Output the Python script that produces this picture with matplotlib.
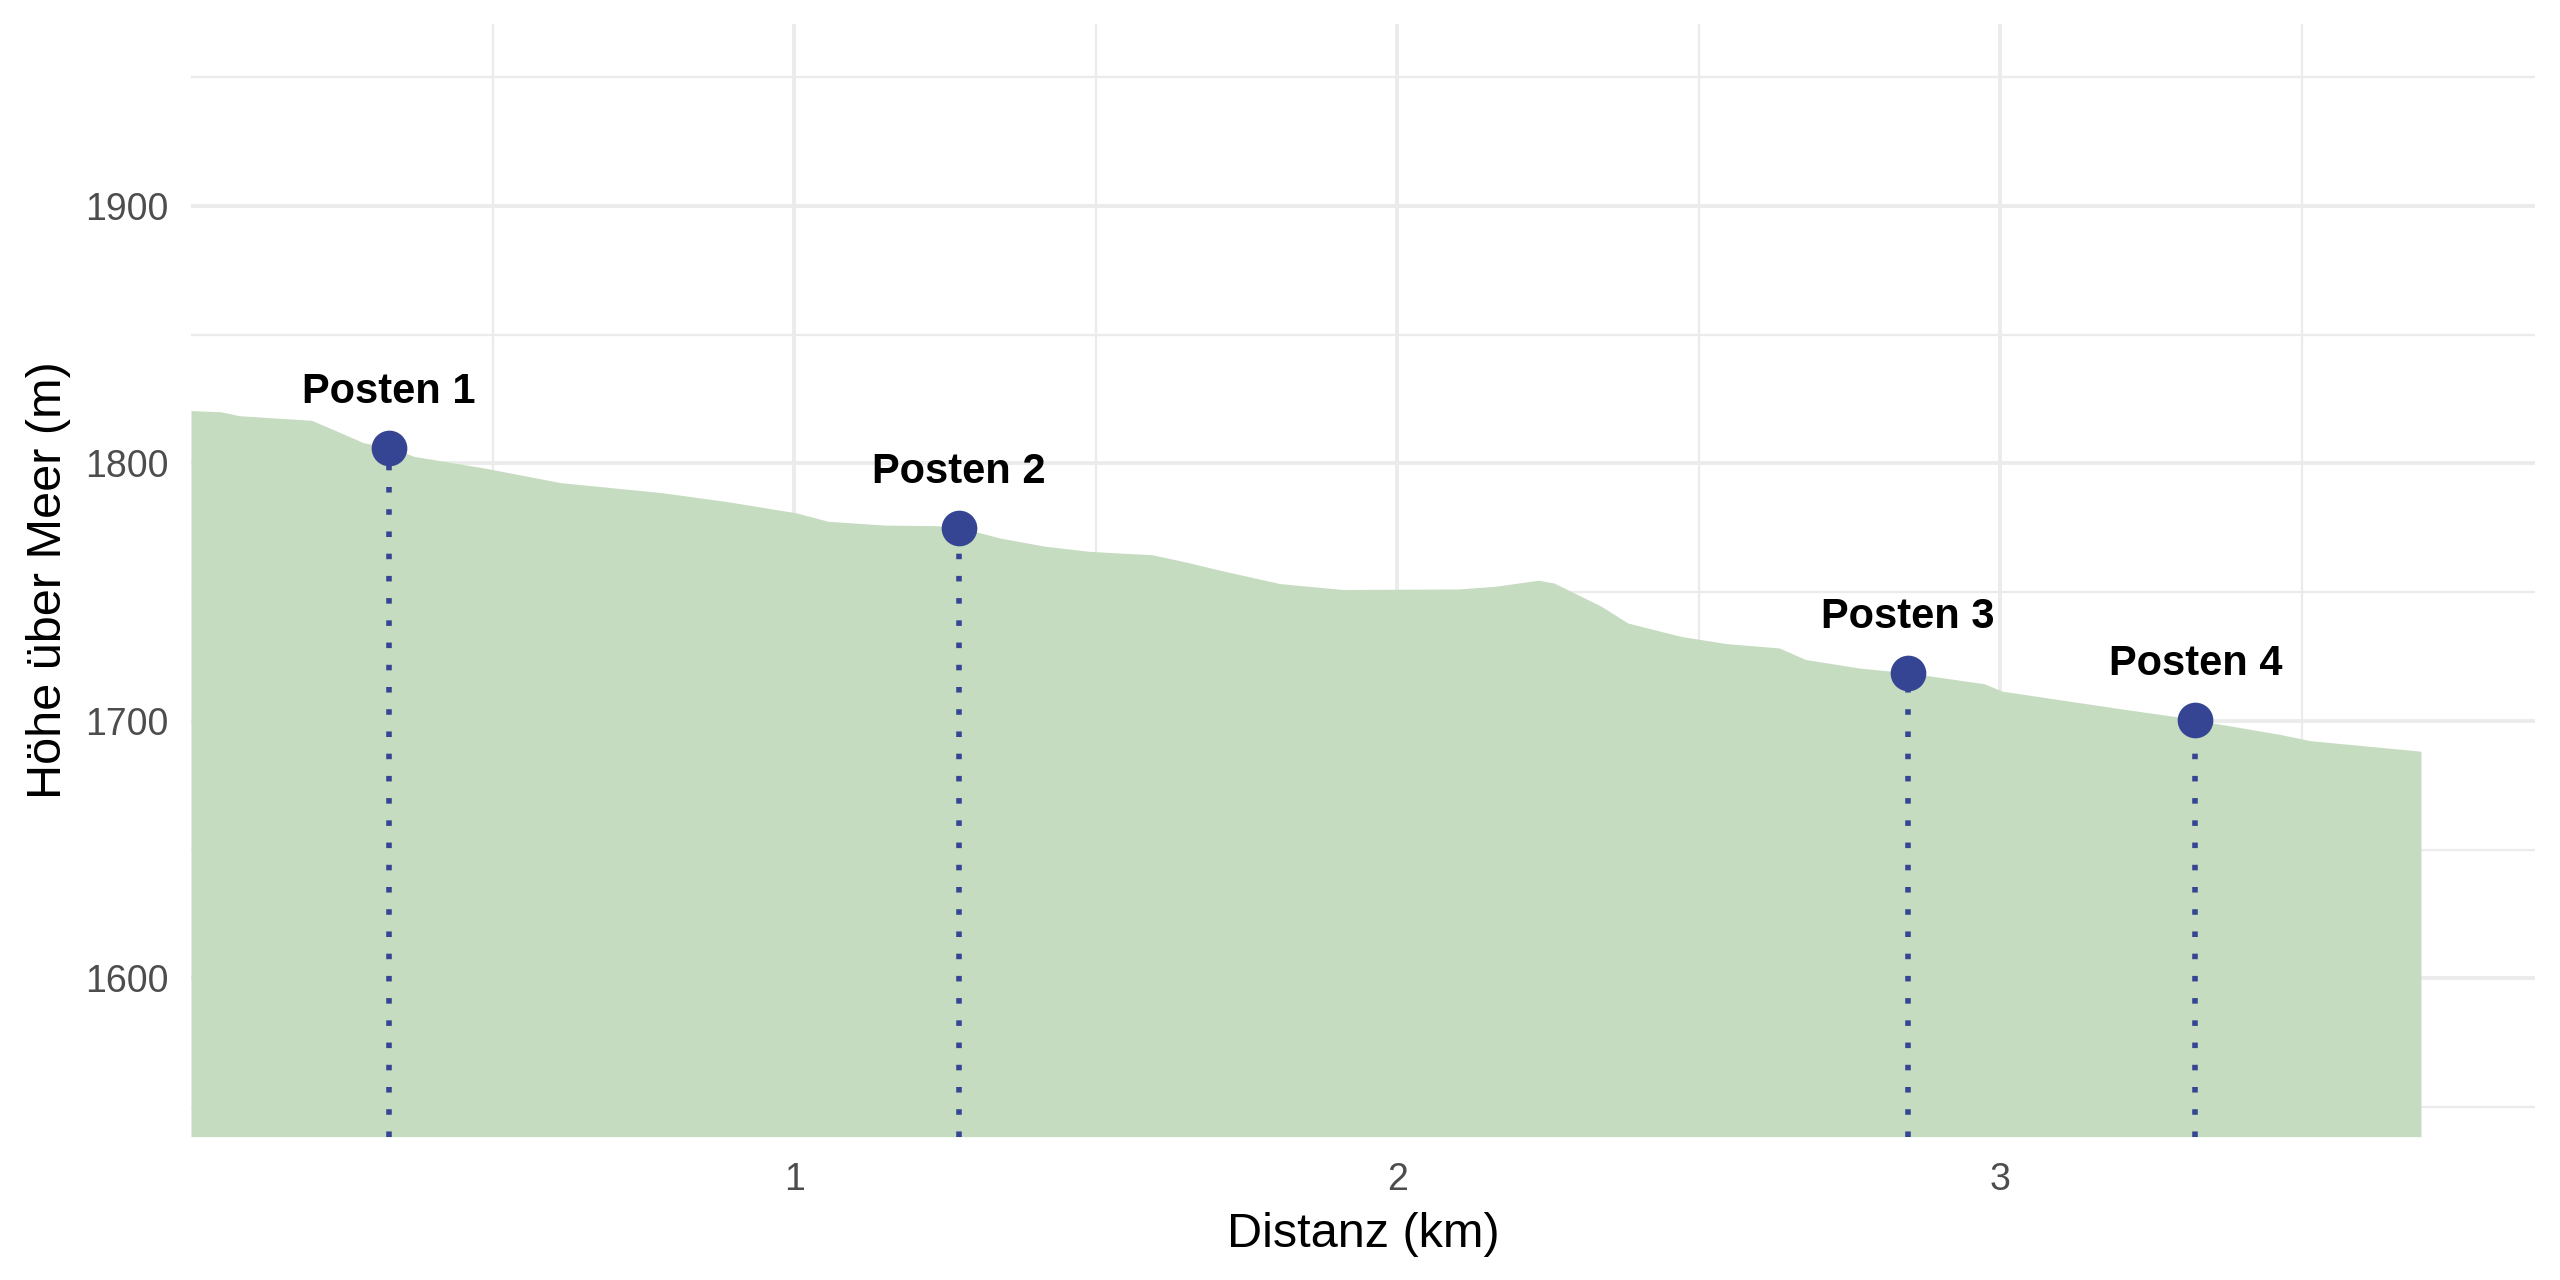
import numpy as np
import matplotlib.pyplot as plt

plt.rcParams['font.family'] = ['Liberation Sans', 'DejaVu Sans']

# elevation profile (km, m)
dist = [0.0, 0.05, 0.08, 0.20, 0.243, 0.286, 0.332, 0.370, 0.486, 0.613,
        0.781, 0.887, 1.003, 1.056, 1.151, 1.235, 1.276, 1.341, 1.416, 1.490,
        1.593, 1.651, 1.702, 1.805, 1.909, 2.101, 2.161, 2.234, 2.260, 2.293,
        2.338, 2.382, 2.470, 2.545, 2.633, 2.677, 2.766, 2.848, 2.973, 3.003,
        3.210, 3.325, 3.356, 3.464, 3.513, 3.697]
elev = [1820.5, 1820.0, 1818.5, 1816.7, 1812.4, 1808.0, 1806.0, 1802.7, 1798.2, 1792.5,
        1788.6, 1785.2, 1780.8, 1777.5, 1776.0, 1775.8, 1775.0, 1771.0, 1767.8, 1765.8,
        1764.5, 1761.6, 1758.7, 1753.3, 1751.0, 1751.2, 1752.2, 1754.6, 1753.5, 1749.7,
        1744.5, 1738.0, 1732.8, 1730.0, 1728.3, 1723.8, 1720.5, 1718.6, 1714.4, 1711.5,
        1704.3, 1700.5, 1699.0, 1694.7, 1692.3, 1688.2]

# posts
post_names = ['Posten 1', 'Posten 2', 'Posten 3', 'Posten 4']
post_dist = [0.328, 1.273, 2.846, 3.323]
post_elev = [1806.0, 1775.0, 1718.6, 1700.5]

ymin, ymax = 1538.5, 1970.5
navy = '#354593'

fig = plt.figure(figsize=(12.8, 6.4), dpi=200)
ax = fig.add_axes([0.0746, 0.112, 0.9156, 0.869])

ax.fill_between(dist, ymin, elev, color='#c6dcc1', lw=0, zorder=1)

for x, y, name in zip(post_dist, post_elev, post_names):
    ax.plot([x, x], [ymin, y], color=navy, lw=2.0, linestyle=(0, (1, 3)), zorder=2)
    ax.annotate(name, (x, y), xytext=(0, 20), textcoords='offset points',
                ha='center', va='center', fontsize=15, fontweight='bold', zorder=4)
ax.scatter(post_dist, post_elev, s=165, color=navy, zorder=3, lw=0)

ax.set_xlim(0, 3.886)
ax.set_ylim(ymin, ymax)
ax.set_xticks([1, 2, 3])
ax.set_xticks([0.5, 1.5, 2.5, 3.5], minor=True)
ax.set_yticks([1600, 1700, 1800, 1900])
ax.set_yticks([1550, 1650, 1750, 1850, 1950], minor=True)

ax.grid(which='major', color='#ebebeb', lw=1.4)
ax.grid(which='minor', color='#ebebeb', lw=0.8)
ax.set_axisbelow(True)
for s in ax.spines.values():
    s.set_visible(False)
ax.tick_params(which='both', length=0, labelsize=13.5, labelcolor='#4d4d4d')
ax.tick_params(axis='x', pad=9)
ax.tick_params(axis='y', pad=8)

ax.set_xlabel('Distanz (km)', fontsize=17.5, labelpad=5)
ax.set_ylabel('Höhe über Meer (m)', fontsize=17.5, labelpad=5)

fig.savefig('out.png', dpi=200)
